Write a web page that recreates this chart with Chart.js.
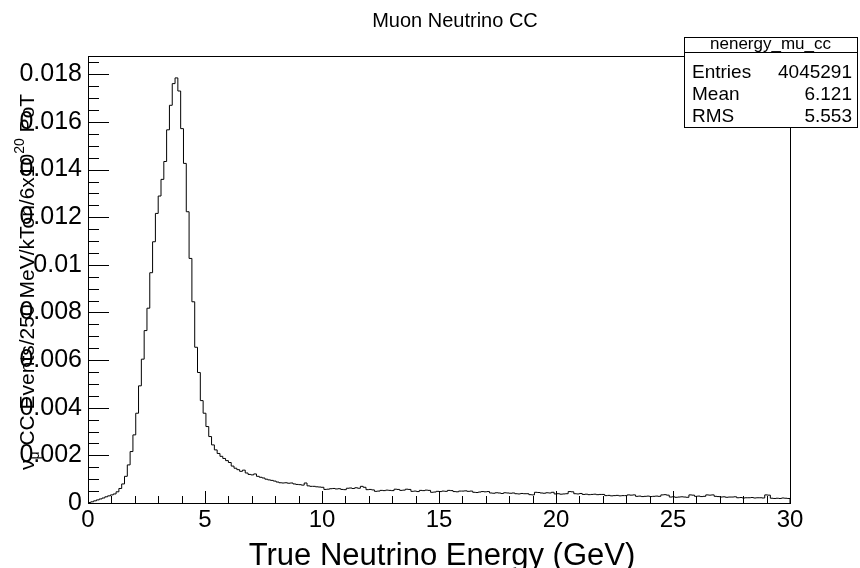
<!DOCTYPE html>
<html>
<head>
<meta charset="utf-8">
<script src="https://cdn.jsdelivr.net/npm/chart.js@4.4.1/dist/chart.umd.min.js"></script>
<style>
  body { margin: 0; background: #fff; }
  canvas { display: block; }
</style>
</head>
<body>
<canvas id="myChart" width="860" height="568"></canvas>
<script>
// histogram: 250 bins of 0.12 GeV from 0 to 30 GeV
const binWidth = 0.12;
const xMin = 0;
const xMax = 30;
const yMax = 0.01877;

const counts = [
    0.00002, 0.00005, 0.00009, 0.00013, 0.00017, 0.00021, 0.00026, 0.0003, 0.00034, 0.00038,
    0.00047, 0.00061, 0.0008, 0.00112, 0.0016, 0.00216, 0.00286, 0.00377, 0.00492, 0.00604,
    0.00724, 0.00818, 0.00967, 0.01097, 0.01216, 0.01289, 0.01359, 0.01434, 0.01567, 0.0167,
    0.01761, 0.01785, 0.0173, 0.01572, 0.01426, 0.01223, 0.01027, 0.00845, 0.00654, 0.00548,
    0.0043, 0.00377, 0.00321, 0.00279, 0.00244, 0.00223, 0.00208, 0.00196, 0.00187, 0.00178,
    0.0017, 0.00155, 0.00146, 0.0014, 0.00133, 0.00138, 0.00126, 0.0012, 0.00118, 0.00122,
    0.00112, 0.00108, 0.00105, 0.001, 0.00097, 0.00095, 0.00092, 0.00088, 0.00085, 0.00084,
    0.00085, 0.00083, 0.00084, 0.0008, 0.00078, 0.00077, 0.00075, 0.00084, 0.00072, 0.0007,
    0.0007, 0.00068, 0.00067, 0.00066, 0.00057, 0.00058, 0.0006, 0.00061, 0.00059, 0.0006,
    0.00057, 0.00056, 0.00062, 0.00063, 0.00061, 0.00064, 0.00062, 0.0007, 0.00066, 0.00056,
    0.00057, 0.00055, 0.00049, 0.0005, 0.00053, 0.00052, 0.00054, 0.00053, 0.00052, 0.00058,
    0.00057, 0.00053, 0.00054, 0.00058, 0.00057, 0.00049, 0.0005, 0.00048, 0.00053, 0.00052,
    0.00054, 0.00053, 0.00045, 0.00046, 0.00049, 0.00048, 0.0005, 0.00049, 0.00053, 0.00052,
    0.00048, 0.00047, 0.0005, 0.0005, 0.00051, 0.00049, 0.0005, 0.00045, 0.00044, 0.00046,
    0.00048, 0.00047, 0.00048, 0.00042, 0.00041, 0.00043, 0.00042, 0.0004, 0.00043, 0.00042,
    0.00041, 0.00042, 0.00039, 0.00038, 0.0004, 0.00039, 0.00039, 0.00035, 0.00034, 0.00045,
    0.00044, 0.00042, 0.00041, 0.00043, 0.00042, 0.00045, 0.00038, 0.00039, 0.00037, 0.00038,
    0.00039, 0.00048, 0.00047, 0.00039, 0.00038, 0.0004, 0.00036, 0.00037, 0.00035, 0.00036,
    0.00037, 0.00035, 0.00036, 0.00036, 0.00031, 0.00032, 0.0003, 0.00031, 0.00032, 0.0003,
    0.00031, 0.00031, 0.00034, 0.00033, 0.00034, 0.00028, 0.00029, 0.00027, 0.00028, 0.00029,
    0.00027, 0.00028, 0.00029, 0.00028, 0.00034, 0.00035, 0.00033, 0.00025, 0.00026, 0.00024,
    0.00025, 0.00026, 0.00025, 0.00024, 0.00034, 0.00033, 0.00028, 0.00029, 0.00027, 0.00028,
    0.00034, 0.00033, 0.00034, 0.00028, 0.00027, 0.00025, 0.00026, 0.00024, 0.00025, 0.00025,
    0.00026, 0.00022, 0.00023, 0.00021, 0.00022, 0.00022, 0.00023, 0.00021, 0.00022, 0.00022,
    0.00021, 0.00034, 0.00033, 0.0002, 0.00019, 0.0002, 0.00019, 0.00021, 0.0002, 0.00019
];

const xTicks = [0, 5, 10, 15, 20, 25, 30];
const xMinorStep = 1;
const yTicks = [0, 0.002, 0.004, 0.006, 0.008, 0.01, 0.012, 0.014, 0.016, 0.018];
const yTickLabels = ['0', '0.002', '0.004', '0.006', '0.008', '0.01', '0.012', '0.014', '0.016', '0.018'];
const yMinorStep = 0.0005;

const statsName = 'nenergy_mu_cc';
const statsLabels = ['Entries', 'Mean', 'RMS'];
const statsValues = ['4045291', '6.121', '5.553'];

const FONT = '"Liberation Sans", Arial, Helvetica, sans-serif';

// step outline: one point per bin low edge, closed down to zero at both ends
const points = [{ x: xMin, y: 0 }];
counts.forEach((c, i) => points.push({ x: xMin + i * binWidth, y: c }));
points.push({ x: xMax, y: 0 });

// frame, inward ticks, stats box and titles (ROOT look)
const rootDecor = {
    id: 'rootDecor',
    afterDraw(chart) {
        const { ctx, chartArea: a, scales: { x, y } } = chart;
        ctx.save();
        ctx.strokeStyle = '#000';
        ctx.lineWidth = 1;

        // frame
        ctx.strokeRect(Math.round(a.left) + 0.5, Math.round(a.top) + 0.5,
            Math.round(a.right - a.left), Math.round(a.bottom - a.top));

        // x ticks
        ctx.beginPath();
        for (let v = xMin; v <= xMax + 1e-9; v += xMinorStep) {
            const px = Math.round(x.getPixelForValue(v)) + 0.5;
            const len = xTicks.includes(v) ? 12 : 7;
            ctx.moveTo(px, a.bottom);
            ctx.lineTo(px, a.bottom - len);
        }
        // y ticks
        for (let k = 0; k * yMinorStep <= yMax; k++) {
            const v = k * yMinorStep;
            const py = Math.round(y.getPixelForValue(v)) + 0.5;
            const len = k % 4 === 0 ? 21 : 11;
            ctx.moveTo(a.left, py);
            ctx.lineTo(a.left + len, py);
        }
        ctx.stroke();

        // plot title
        ctx.fillStyle = '#000';
        ctx.font = '20px ' + FONT;
        ctx.textAlign = 'center';
        ctx.textBaseline = 'alphabetic';
        ctx.fillText('Muon Neutrino CC', 455, 27);

        // x axis title (cut by the canvas edge like the original)
        ctx.font = '31px ' + FONT;
        ctx.fillText('True Neutrino Energy (GeV)', (a.left + a.right) / 2 + 3, 565);

        // y axis title, rotated, with sub/superscripts
        ctx.save();
        ctx.translate(34, 470);
        ctx.rotate(-Math.PI / 2);
        ctx.textAlign = 'left';
        const parts = [
            { t: '\u03BD', size: 21, dy: 0 },
            { t: '\u03BC', size: 14, dy: 5 },
            { t: ' CC Events/250 MeV/kTon/6x10', size: 21, dy: 0 },
            { t: '20', size: 14, dy: -10 },
            { t: ' PoT', size: 21, dy: 0 }
        ];
        let u = 0;
        parts.forEach(p => {
            ctx.font = p.size + 'px ' + FONT;
            ctx.fillText(p.t, u, p.dy);
            u += ctx.measureText(p.t).width;
        });
        ctx.restore();

        // stats box
        const bx = 684, by = 37, bw = 173, bh = 90, hh = 15;
        ctx.fillStyle = '#fff';
        ctx.fillRect(bx, by, bw, bh);
        ctx.strokeRect(bx + 0.5, by + 0.5, bw, bh);
        ctx.beginPath();
        ctx.moveTo(bx, by + hh + 0.5);
        ctx.lineTo(bx + bw, by + hh + 0.5);
        ctx.stroke();
        ctx.fillStyle = '#000';
        ctx.font = '17px ' + FONT;
        ctx.textAlign = 'center';
        ctx.textBaseline = 'alphabetic';
        ctx.fillText(statsName, bx + bw / 2, by + 12);
        ctx.font = '19px ' + FONT;
        ctx.textBaseline = 'middle';
        statsLabels.forEach((lab, i) => {
            const ry = 73 + i * 22;
            ctx.textAlign = 'left';
            ctx.fillText(lab, bx + 8, ry);
            ctx.textAlign = 'right';
            ctx.fillText(statsValues[i], bx + bw - 5, ry);
        });

        ctx.restore();
    }
};

const ctx = document.getElementById('myChart');
new Chart(ctx, {
    type: 'line',
    data: {
        datasets: [{
            data: points,
            stepped: true,
            borderColor: '#000',
            borderWidth: 1,
            pointRadius: 0,
            fill: false
        }]
    },
    options: {
        responsive: false,
        animation: false,
        events: [],
        layout: { padding: { top: 56, right: 70, left: 0, bottom: 0 } },
        plugins: {
            legend: { display: false },
            tooltip: { enabled: false },
            title: { display: false }
        },
        scales: {
            x: {
                type: 'linear',
                min: xMin,
                max: xMax,
                afterBuildTicks: s => { s.ticks = xTicks.map(v => ({ value: v })); },
                afterFit: s => { s.height = 65; },
                grid: { display: false, drawTicks: false },
                border: { display: false },
                ticks: {
                    color: '#000',
                    font: { family: FONT, size: 24 },
                    padding: 3,
                    maxRotation: 0,
                    autoSkip: false
                }
            },
            y: {
                type: 'linear',
                min: 0,
                max: yMax,
                afterBuildTicks: s => { s.ticks = yTicks.map(v => ({ value: v })); },
                afterFit: s => { s.width = 88; },
                grid: { display: false, drawTicks: false },
                border: { display: false },
                ticks: {
                    color: '#000',
                    font: { family: FONT, size: 25 },
                    padding: 6,
                    autoSkip: false,
                    callback: (v, i) => yTickLabels[i]
                }
            }
        }
    },
    plugins: [rootDecor]
});
</script>
</body>
</html>
